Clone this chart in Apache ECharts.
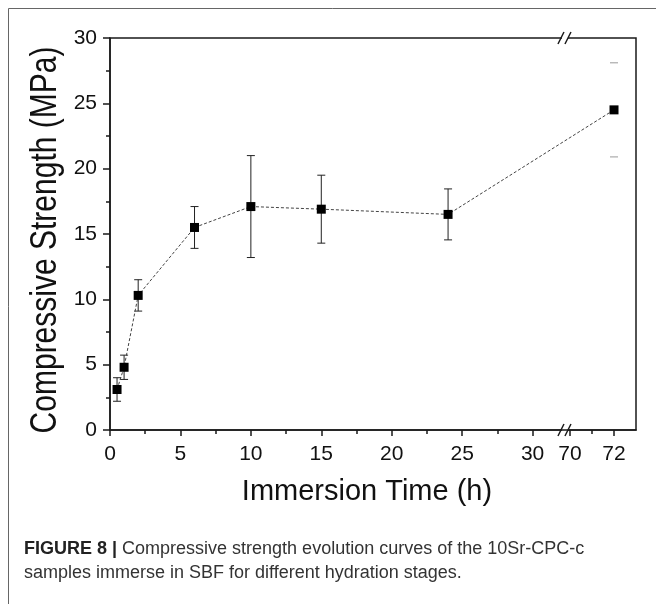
<!DOCTYPE html>
<html>
<head>
<meta charset="utf-8">
<script src="https://cdn.jsdelivr.net/npm/echarts@6/dist/echarts.min.js"></script>
<style>
  html, body { margin: 0; padding: 0; background: #fff; }
  #chart { width: 657px; height: 604px; }
</style>
</head>
<body>
<div id="chart"></div>
<script>
// Immersion times (h), mean compressive strength (MPa) and its +/- error
const times = [0.5, 1, 2, 6, 10, 15, 24, 72];
const strength = [3.1, 4.8, 10.3, 15.5, 17.1, 16.9, 16.5, 24.5];
const errors = [0.9, 0.93, 1.2, 1.6, 3.9, 2.6, 1.95, 3.6];

// Tick labels of the broken time axis
const xMajorTicks = [0, 5, 10, 15, 20, 25, 30, 70, 72];
const xMinorTicks = [2.5, 7.5, 12.5, 17.5, 22.5, 27.5, 71];
const yTicks = [0, 5, 10, 15, 20, 25, 30];

// Axis break: the first segment ends at BREAK_LOW, the second starts at BREAK_HIGH
const BREAK_LOW = 32.3;
const BREAK_HIGH = 69.77;
const SECOND_SCALE = 1.561;   // second segment is drawn wider per hour
const X_END = 73;

// Error bars drawn with caps only (no stem)
const capsOnly = [7];

function toAxisX(t) {
  return t <= BREAK_LOW ? t : BREAK_LOW + (t - BREAK_HIGH) * SECOND_SCALE;
}
function fromAxisX(v) {
  const t = v <= BREAK_LOW + 1e-6 ? v : BREAK_HIGH + (v - BREAK_LOW) / SECOND_SCALE;
  return Math.round(t * 10) / 10;
}

const chart = echarts.init(document.getElementById('chart'), null, { renderer: 'canvas' });

const xMin = 0, xMax = toAxisX(X_END);
const font = '"Liberation Sans", Arial, Helvetica, sans-serif';
const ink = '#1a1a1a';

const points = times.map((t, i) => [toAxisX(t), strength[i]]);
const bars = times.map((t, i) => [toAxisX(t), strength[i], errors[i], i]);

const option = {
  backgroundColor: '#fff',
  animation: false,
  grid: {
    left: 110, right: 21, top: 38, bottom: 174,
    show: true, borderColor: ink, borderWidth: 1.5, backgroundColor: 'transparent'
  },
  xAxis: [
    {
      type: 'value', min: xMin, max: xMax, position: 'bottom',
      axisLine: { show: true, onZero: false, lineStyle: { color: ink, width: 1.5 } },
      axisTick: { show: true, inside: false, length: 6, customValues: xMajorTicks.map(toAxisX),
                  lineStyle: { color: ink, width: 1.5 } },
      axisLabel: { show: true, customValues: xMajorTicks.map(toAxisX), margin: 14,
                   formatter: v => String(fromAxisX(v)),
                   fontFamily: font, fontSize: 21, color: '#111' },
      splitLine: { show: false },
      name: 'Immersion Time (h)', nameLocation: 'middle', nameGap: 47,
      nameTextStyle: { fontFamily: font, fontSize: 29, color: '#111', padding: [0, 12, 0, 0] }
    },
    {
      type: 'value', min: xMin, max: xMax, position: 'bottom',
      axisLine: { show: false },
      axisTick: { show: true, inside: false, length: 4, customValues: xMinorTicks.map(toAxisX),
                  lineStyle: { color: ink, width: 1.5 } },
      axisLabel: { show: false, customValues: xMinorTicks.map(toAxisX) },
      splitLine: { show: false }
    }
  ],
  yAxis: {
    type: 'value', min: yTicks[0], max: yTicks[yTicks.length - 1], interval: 5,
    axisLine: { show: true, lineStyle: { color: ink, width: 1.5 } },
    axisTick: { show: true, inside: false, length: 7, lineStyle: { color: ink, width: 1.5 } },
    minorTick: { show: true, splitNumber: 2, length: 4, lineStyle: { color: ink, width: 1.5 } },
    axisLabel: { margin: 13, fontFamily: font, fontSize: 21, color: '#111' },
    splitLine: { show: false }
  },
  series: [
    {
      type: 'line', data: points, xAxisIndex: 0,
      symbol: 'rect', symbolSize: 9,
      itemStyle: { color: '#000' },
      lineStyle: { color: '#444', width: 1, type: [3, 2] },
      z: 3
    },
    {
      type: 'custom', data: bars, xAxisIndex: 0,
      renderItem: function (params, api) {
        const x = api.value(0), y = api.value(1), e = api.value(2), idx = api.value(3);
        const hi = api.coord([x, y + e]);
        const lo = api.coord([x, y - e]);
        const w = 4;
        const faded = capsOnly.indexOf(idx) >= 0;
        const style = { stroke: faded ? '#9a9a9a' : '#222', lineWidth: 1 };
        const children = [
          { type: 'line', shape: { x1: hi[0] - w, y1: hi[1], x2: hi[0] + w, y2: hi[1] }, style },
          { type: 'line', shape: { x1: lo[0] - w, y1: lo[1], x2: lo[0] + w, y2: lo[1] }, style }
        ];
        if (!faded) {
          children.push({ type: 'line', shape: { x1: hi[0], y1: hi[1], x2: lo[0], y2: lo[1] }, style });
        }
        return { type: 'group', children };
      },
      z: 2
    }
  ]
};

chart.setOption(option);

// Break marks on the top and bottom frame lines, the y title, the caption and the figure frame
const bx = chart.convertToPixel({ xAxisIndex: 0 }, BREAK_LOW);
const yTop = chart.convertToPixel({ yAxisIndex: 0 }, 30);
const yBot = chart.convertToPixel({ yAxisIndex: 0 }, 0);

function breakMark(yc) {
  const slash = (dx) => ({
    type: 'line',
    shape: { x1: bx + dx - 3, y1: yc + 6, x2: bx + dx + 3, y2: yc - 6 },
    style: { stroke: ink, lineWidth: 1.5 }
  });
  return {
    type: 'group', z: 10,
    children: [
      { type: 'rect', shape: { x: bx - 3, y: yc - 2, width: 6, height: 4 }, style: { fill: '#fff' } },
      slash(-4), slash(3)
    ]
  };
}

chart.setOption({
  graphic: [
    breakMark(yTop),
    breakMark(yBot),
    {
      type: 'text', x: 46, y: 240, rotation: Math.PI / 2, scaleY: 1.2, z: 10,
      style: {
        text: 'Compressive Strength (MPa)', fontFamily: font, fontSize: 30, fill: '#111',
        align: 'center', verticalAlign: 'middle'
      }
    },
    { type: 'line', shape: { x1: 8.5, y1: 8.5, x2: 656, y2: 8.5 }, style: { stroke: '#666', lineWidth: 1 } },
    { type: 'line', shape: { x1: 8.5, y1: 8.5, x2: 8.5, y2: 604 }, style: { stroke: '#666', lineWidth: 1 } },
    {
      type: 'text', left: 24, top: 537,
      style: {
        text: '{b|FIGURE 8 |} Compressive strength evolution curves of the 10Sr-CPC-c\nsamples immerse in SBF for different hydration stages.',
        fontFamily: font, fontSize: 18, lineHeight: 24, fill: '#333',
        rich: { b: { fontFamily: font, fontSize: 18, fontWeight: 'bold', fill: '#222' } }
      }
    }
  ]
});
</script>
</body>
</html>
